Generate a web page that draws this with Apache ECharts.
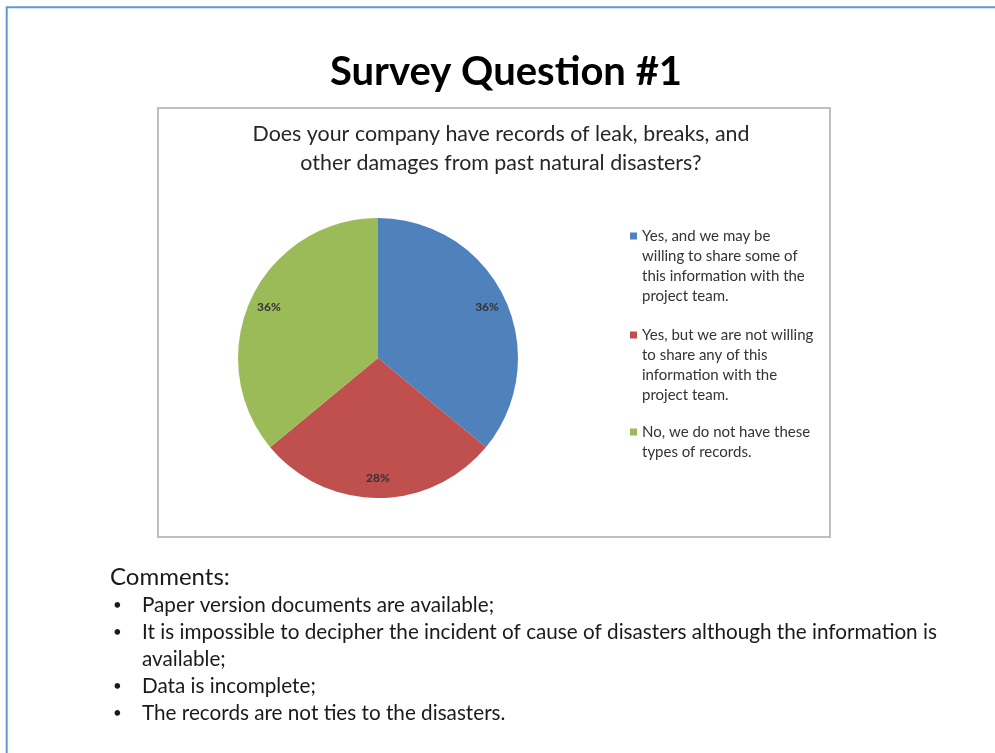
<!DOCTYPE html>
<html>
<head>
<meta charset="utf-8">
<script src="https://cdn.jsdelivr.net/npm/echarts@6/dist/echarts.min.js"></script>
<style>
  html, body { margin: 0; padding: 0; background: #ffffff; }
  #chart { width: 995px; height: 753px; }
</style>
</head>
<body>
<div id="chart"></div>
<script>
// Survey answers (legend text keeps its own line breaks)
const categories = [
  'Yes, and we may be\nwilling to share some of\nthis information with the\nproject team.',
  'Yes, but we are not willing\nto share any of this\ninformation with the\nproject team.',
  'No, we do not have these\ntypes of records.'
];
// Share of respondents, percent
const shares = [36, 28, 36];
const sliceColors = ['#4f81bd', '#c0504d', '#9bbb59'];

const pageTitle = 'Survey Question #1';
const questionText = 'Does your company have records of leak, breaks, and\nother damages from past natural disasters?';
const commentsHeading = 'Comments:';
const comments = [
  'Paper version documents are available;',
  'It is impossible to decipher the incident of cause of disasters although the information is\navailable;',
  'Data is incomplete;',
  'The records are not ties to the disasters.'
];

const FONT = 'Lato, "Open Sans", sans-serif';
const chart = echarts.init(document.getElementById('chart'), null, { renderer: 'canvas' });

const pieData = categories.map((name, i) => ({
  name: name,
  value: shares[i],
  itemStyle: { color: sliceColors[i] }
}));

// One legend block per answer so the swatch sits beside the first text line
const LINE_H = 20;
const legendTops = [226, 325, 422];
const legends = categories.map((name, i) => {
  const h = name.split('\n').length * LINE_H;
  return {
    orient: 'vertical',
    left: 630,
    top: legendTops[i],
    padding: 0,
    itemWidth: 7,
    itemHeight: h,
    itemGap: 0,
    selectedMode: false,
    icon: 'path://M0,0L0.01,0Z M0,6.5h7v7h-7Z M0,' + h + 'L0.01,' + h + 'Z',
    data: [{ name: name, itemStyle: { color: sliceColors[i] } }],
    textStyle: {
      fontFamily: FONT,
      fontSize: 15,
      lineHeight: LINE_H,
      color: '#333333'
    }
  };
});

// Bulleted notes below the chart frame
const noteElements = [];
noteElements.push({
  type: 'text', x: 110, y: 577,
  style: { text: commentsHeading, font: '24px ' + FONT, fill: '#1a1a1a', verticalAlign: 'middle' }
});
let lineIdx = 0;
comments.forEach((c) => {
  const y = 605 + lineIdx * 27;
  noteElements.push({
    type: 'text', x: 113, y: y,
    style: { text: '\u2022', font: '15px ' + FONT, fill: '#1a1a1a', verticalAlign: 'middle' }
  });
  noteElements.push({
    type: 'text', x: 142, y: y - 13.5,
    style: { text: c, font: '20.7px ' + FONT, fill: '#1a1a1a', lineHeight: 27, verticalAlign: 'top' }
  });
  lineIdx += c.split('\n').length;
});

const option = {
  backgroundColor: '#ffffff',
  animation: false,
  title: [
    {
      text: pageTitle,
      left: 501, top: 47,
      textAlign: 'center',
      textStyle: { fontFamily: FONT, fontSize: 40, fontWeight: 'bold', color: '#000000' }
    },
    {
      text: questionText,
      left: 496, top: 115,
      textAlign: 'center',
      textStyle: { fontFamily: FONT, fontSize: 21.4, fontWeight: 'normal', color: '#262626', lineHeight: 29 }
    }
  ],
  legend: legends,
  graphic: [
    // slide frame (left and top edges visible)
    {
      type: 'rect', silent: true, z: 0,
      shape: { x: 6.7, y: 7.3, width: 1100, height: 1100 },
      style: { fill: 'none', stroke: '#5b9bd5', lineWidth: 2 }
    },
    // chart area frame
    {
      type: 'rect', silent: true, z: 0,
      shape: { x: 158, y: 108, width: 672, height: 429 },
      style: { fill: '#ffffff', stroke: '#bfbfbf', lineWidth: 2 }
    }
  ].concat(noteElements),
  series: [
    {
      type: 'pie',
      center: [378, 358],
      radius: [0, 140],
      startAngle: 90,
      clockwise: true,
      label: { show: false },
      labelLine: { show: false },
      emphasis: { disabled: true },
      data: pieData
    },
    {
      // transparent ring that only places the percentage labels near the rim
      type: 'pie',
      center: [378, 358],
      radius: [95, 140],
      startAngle: 90,
      clockwise: true,
      silent: true,
      itemStyle: { color: 'rgba(0,0,0,0)' },
      label: {
        show: true,
        position: 'inside',
        formatter: '{c}%',
        fontFamily: FONT,
        fontSize: 12,
        fontWeight: 'bold',
        color: '#333333'
      },
      labelLine: { show: false },
      emphasis: { disabled: true },
      data: categories.map((name, i) => ({ name: name, value: shares[i] }))
    }
  ]
};

chart.setOption(option);
</script>
</body>
</html>
